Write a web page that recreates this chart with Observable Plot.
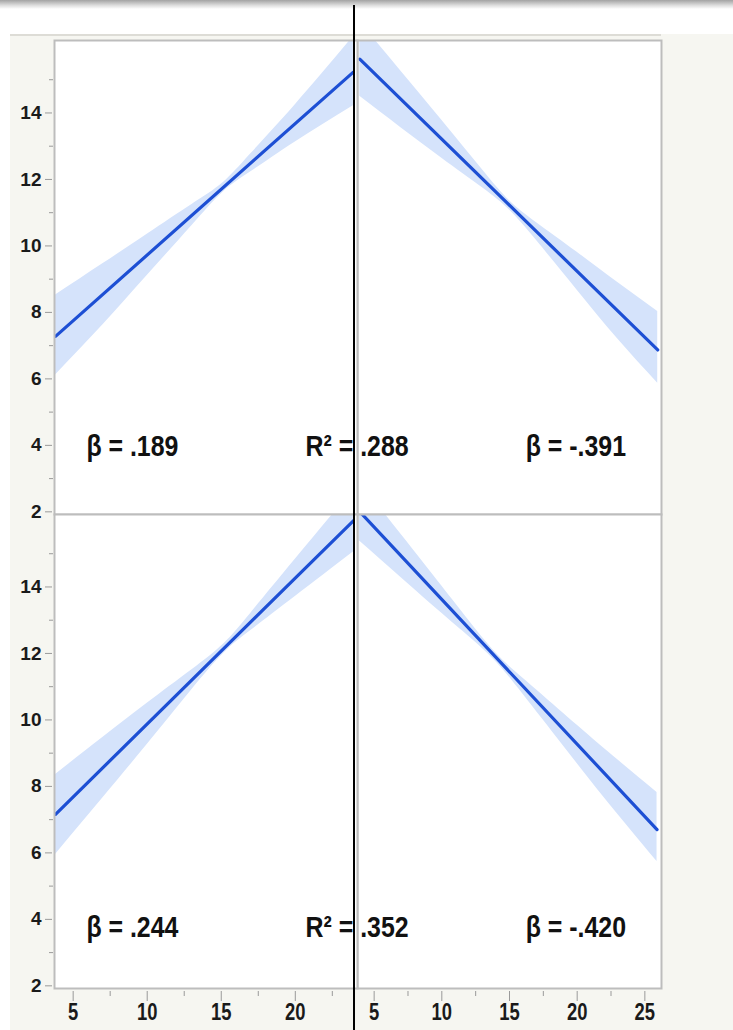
<!DOCTYPE html>
<html><head><meta charset="utf-8">
<script src="https://cdn.jsdelivr.net/npm/d3@7"></script>
<script src="https://cdn.jsdelivr.net/npm/@observablehq/plot@0.6"></script>
<style>
html,body{margin:0;padding:0;background:#fff;}
#page{position:relative;width:733px;height:1030px;overflow:hidden;background:#fff;}
#topbar{position:absolute;left:0;top:0;width:733px;height:9px;background:linear-gradient(#a3a3a3,#dedede 60%,#fff);}
#bg{position:absolute;left:10px;top:34px;right:0;bottom:0;background:#f6f6f1;}
#bgline{position:absolute;left:10px;top:34px;width:651px;height:2px;background:#dddcd6;}
.panel{position:absolute;}
#vline{position:absolute;left:353px;top:5px;width:2px;height:1025px;background:#000;z-index:10;}
</style></head>
<body>
<div id="page">
  <div id="topbar"></div>
  <div id="bg"></div>
  <div id="bgline"></div>
  <div id="vline"></div>
</div>
<script>
// ---- data ----
const yMajor = [2, 4, 6, 8, 10, 12, 14];
const yMinor = [3, 5, 7, 9, 11, 13, 15];
const xMajorLeft = [5, 10, 15, 20];
const xMajorRight = [5, 10, 15, 20, 25];
const xMinor = [7.5, 12.5, 17.5, 22.5];

// top-left
const tlX = [3.81, 23.92];
const tlFit = [7.28, 15.23];
const tlBandX = [3.81, 7, 10, 13, 15.1, 17, 20, 23.92];
const tlLo = [6.12, 7.62, 9.11, 10.60, 11.61, 12.23, 13.13, 14.22];
const tlHi = [8.52, 9.46, 10.35, 11.24, 11.89, 12.77, 14.25, 16.3];
// top-right
const trX = [3.94, 25.95];
const trFit = [15.62, 6.87];
const trBandX = [3.94, 7, 10, 13, 15, 17, 20, 23, 25.95];
const trLo = [14.5, 13.55, 12.64, 11.75, 11.08, 10.16, 8.67, 7.20, 5.87];
const trHi = [16.74, 15.25, 13.78, 12.29, 11.36, 10.70, 9.81, 8.90, 8.03];
// bottom-left
const blX = [3.81, 23.92];
const blFit = [7.16, 15.99];
const blBandX = [3.81, 7, 10, 13, 15.2, 17, 20, 23.92];
const blLo = [5.95, 7.65, 9.26, 10.90, 12.02, 12.69, 13.71, 15.05];
const blHi = [8.36, 9.47, 10.50, 11.50, 12.30, 13.21, 14.83, 16.93];
// bottom-right
const brX = [3.9, 25.9];
const brFit = [16.28, 6.70];
const brBandX = [3.9, 7, 10, 12, 14, 16, 19, 22, 25.9];
const brLo = [15.39, 14.28, 13.21, 12.51, 11.75, 10.77, 9.21, 7.66, 5.74];
const brHi = [17.17, 15.58, 14.03, 12.99, 12.01, 11.25, 10.19, 9.14, 7.82];

const betaLabels = ["β = .189", "β = -.391", "β = .244", "β = -.420"];
const r2Labels = ["R² = .288", "R² = .352"];

// ---- drawing ----
const yDomain = [1.92, 16.18];
const xLeftDomain = [3.74, 24.2];
const xRightDomain = [3.77, 26.23];
const LINE = "#1d4fd4", BAND = "#d5e3fb", FRAME = "#bdbdbd", TICK = "#9a9a9a", INK = "#1a1a1a";
const SANS = "'Liberation Sans',Arial,Helvetica,sans-serif";

function condense(nodes, k) {
  nodes.forEach(t => {
    const L = t.getComputedTextLength();
    if (L > 0) {
      t.setAttribute("textLength", (L * k).toFixed(2));
      t.setAttribute("lengthAdjust", "spacingAndGlyphs");
    }
  });
}

function makePanel(cfg) {
  const line = cfg.lineX.map((x, i) => ({x, y: cfg.lineY[i]}));
  const band = cfg.bandX.map((x, i) => ({x, lo: cfg.lo[i], hi: cfg.hi[i]}));
  const marks = [
    Plot.frame({fill: "white"}),
    Plot.areaY(band, {x: "x", y1: "lo", y2: "hi", fill: BAND, curve: "natural", clip: true}),
    Plot.lineY(line, {x: "x", y: "y", stroke: LINE, strokeWidth: 3.2, clip: true}),
    Plot.frame({stroke: FRAME, strokeWidth: 2})
  ];
  if (cfg.showY) {
    marks.push(Plot.axisY(yMajor, {tickSize: 7, dx: -2, stroke: TICK, tickFormat: () => "", label: null}));
    marks.push(Plot.axisY(yMinor, {tickSize: 4, dx: -1, stroke: TICK, tickFormat: () => "", label: null}));
    marks.push(Plot.text(yMajor, {y: d => d, text: d => String(d), frameAnchor: "left", textAnchor: "end", dx: -13,
      fontSize: 19, fontWeight: "bold", fill: INK}));
  }
  if (cfg.showX) {
    marks.push(Plot.axisX(cfg.xMajor, {tickSize: 10, dy: 3, stroke: TICK, tickFormat: () => "", label: null}));
    marks.push(Plot.axisX(xMinor, {tickSize: 5, dy: 3, stroke: TICK, tickFormat: () => "", label: null}));
    marks.push(Plot.text(cfg.xMajor, {x: d => d, text: d => String(d), frameAnchor: "bottom", dy: 31,
      fontSize: 23, fontWeight: "bold", fill: INK}));
  }
  marks.push(Plot.text([cfg.beta], {x: cfg.betaX, y: cfg.labelY, text: d => d, fontSize: 30, fontWeight: "bold", fill: "#111"}));
  if (cfg.r2) {
    marks.push(Plot.text([cfg.r2], {x: cfg.r2X, y: cfg.labelY, text: d => d, textAnchor: "start", fontSize: 30, fontWeight: "bold", fill: "#111"}));
  }
  const svg = Plot.plot({
    width: cfg.width, height: cfg.height,
    marginLeft: cfg.ml, marginRight: cfg.mr, marginTop: cfg.mt, marginBottom: cfg.mb,
    x: {domain: cfg.xDomain, axis: null},
    y: {domain: yDomain, axis: null},
    style: {background: "transparent", overflow: "visible", fontFamily: SANS},
    marks
  });
  const div = document.createElement("div");
  div.className = "panel";
  div.style.left = cfg.left + "px";
  div.style.top = cfg.top + "px";
  div.style.zIndex = cfg.z;
  div.appendChild(svg);
  document.getElementById("page").appendChild(div);

  const allText = Array.from(svg.querySelectorAll("text"));
  // y tick labels: right-anchored numbers
  const yl = allText.filter(t => /^\d+$/.test(t.textContent) && t.closest("g").getAttribute("text-anchor") === "end");
  yl.forEach(t => { t.style.setProperty("font-size", "19px", "important"); t.style.setProperty("font-weight", "700", "important"); });
  // condensed lettering like the original
  const annot = allText.filter(t => /^[βR]/.test(t.textContent));
  condense(annot, 0.83);
  if (cfg.showX) {
    const xl = allText.filter(t => /^\d+$/.test(t.textContent) && t.closest("g").getAttribute("text-anchor") !== "end");
    condense(xl, 0.8);
  }
}

// top-left
makePanel({left: 0, top: 30, width: 359, height: 489, ml: 54, mr: 2, mt: 10, mb: 5, z: 3,
  xDomain: xLeftDomain, lineX: tlX, lineY: tlFit, bandX: tlBandX, lo: tlLo, hi: tlHi,
  showY: true, showX: false, beta: betaLabels[0], betaX: 9.0, r2: r2Labels[0], r2X: 20.69, labelY: 3.97});
// top-right
makePanel({left: 354, top: 30, width: 310, height: 489, ml: 3, mr: 3, mt: 10, mb: 5, z: 1,
  xDomain: xRightDomain, lineX: trX, lineY: trFit, bandX: trBandX, lo: trLo, hi: trHi,
  showY: false, showX: false, beta: betaLabels[1], betaX: 19.9, labelY: 3.97});
// bottom-left
makePanel({left: 0, top: 504, width: 359, height: 526, ml: 54, mr: 2, mt: 10, mb: 42, z: 4,
  xDomain: xLeftDomain, lineX: blX, lineY: blFit, bandX: blBandX, lo: blLo, hi: blHi,
  showY: true, showX: true, xMajor: xMajorLeft, beta: betaLabels[2], betaX: 9.0, r2: r2Labels[1], r2X: 20.69, labelY: 3.75});
// bottom-right
makePanel({left: 354, top: 504, width: 310, height: 526, ml: 3, mr: 3, mt: 10, mb: 42, z: 2,
  xDomain: xRightDomain, lineX: brX, lineY: brFit, bandX: brBandX, lo: brLo, hi: brHi,
  showY: false, showX: true, xMajor: xMajorRight, beta: betaLabels[3], betaX: 19.9, labelY: 3.75});
</script>
</body></html>
